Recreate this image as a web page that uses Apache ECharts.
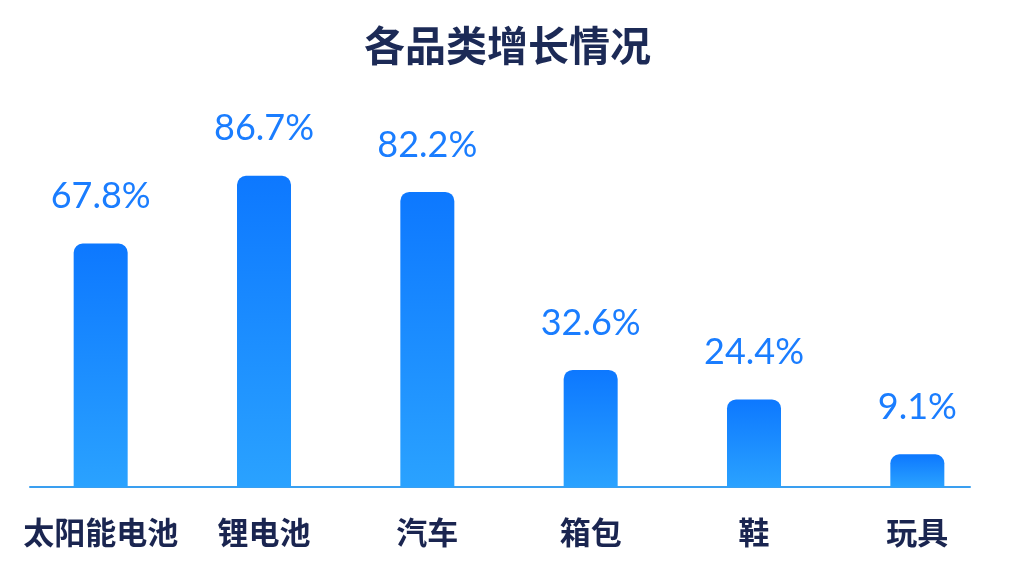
<!DOCTYPE html>
<html><head><meta charset="utf-8">
<script src="https://cdn.jsdelivr.net/npm/echarts@6/dist/echarts.min.js"></script>
<style>html,body{margin:0;padding:0;background:#fff}#c{width:1015px;height:569px}</style>
</head><body><div id="c"></div>
<script>
const title = '各品类增长情况';
const categories = ['太阳能电池', '锂电池', '汽车', '箱包', '鞋', '玩具'];
const values = [67.8, 86.7, 82.2, 32.6, 24.4, 9.1];

const chart = echarts.init(document.getElementById('c'));
chart.setOption({
  backgroundColor: '#ffffff',
  title: {
    text: title, left: 'center', top: 20,
    textStyle: { fontSize: 41, fontWeight: 'bold', color: '#1c2a56', fontFamily: 'Noto Sans CJK SC' }
  },
  grid: [
    { left: 19, right: 16, top: 128, bottom: 82 },
    { left: 30, right: 45, top: 128, bottom: 82 }
  ],
  xAxis: [
    {
      type: 'category', data: categories, gridIndex: 0,
      axisLine: { show: false }, axisTick: { show: false },
      axisLabel: { interval: 0, fontSize: 31, fontWeight: 'bold', color: '#1a2550', margin: 30, fontFamily: 'Noto Sans CJK SC' }
    },
    {
      type: 'category', data: categories, gridIndex: 1,
      axisLine: { show: true, lineStyle: { color: '#3a9ff0', width: 2 } },
      axisTick: { show: false }, axisLabel: { show: false }
    }
  ],
  yAxis: [
    { type: 'value', min: 0, max: 100, show: false, gridIndex: 0, splitLine: { show: false } },
    { type: 'value', min: 0, max: 100, show: false, gridIndex: 1, splitLine: { show: false } }
  ],
  series: [{
    type: 'bar', data: values, barWidth: 54, xAxisIndex: 0, yAxisIndex: 0,
    itemStyle: {
      borderRadius: [9, 9, 0, 0],
      color: new echarts.graphic.LinearGradient(0, 0, 0, 1, [
        { offset: 0, color: '#0d78ff' },
        { offset: 1, color: '#2aa2ff' }
      ])
    },
    label: {
      show: true, position: 'top', distance: 29,
      formatter: p => p.value + '%',
      fontSize: 36, color: '#1a7dff', fontFamily: 'Lato'
    }
  }]
});
</script></body></html>
